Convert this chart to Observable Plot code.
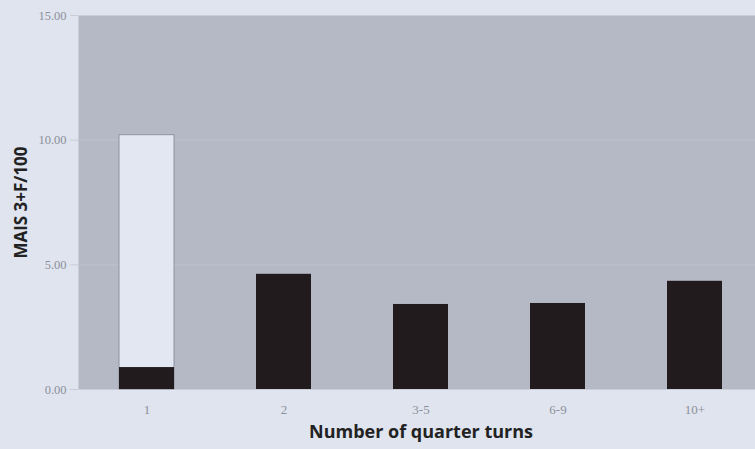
<!DOCTYPE html>
<html>
<head>
<meta charset="utf-8">
<script src="https://cdn.jsdelivr.net/npm/d3@7"></script>
<script src="https://cdn.jsdelivr.net/npm/@observablehq/plot@0.6"></script>
<style>
  html, body { margin: 0; padding: 0; background: #dfe4ee; }
  #chart { width: 755px; height: 449px; overflow: hidden; }
</style>
</head>
<body>
<div id="chart"></div>
<script>
const categories = ["1", "2", "3-5", "6-9", "10+"];
const darkValues = [0.88, 4.62, 3.41, 3.45, 4.34];
const lightValues = [10.2, null, null, null, null];
const yTicks = [0, 5, 10, 15];

const darkData = categories.map((c, i) => ({cat: c, v: darkValues[i]}));
const lightData = categories.map((c, i) => ({cat: c, v: lightValues[i]})).filter(d => d.v != null);

const chart = Plot.plot({
  width: 755,
  height: 449,
  marginLeft: 78,
  marginRight: -8,
  marginTop: 15,
  marginBottom: 60,
  style: {background: "#dfe4ee", overflow: "visible"},
  x: {domain: categories, paddingInner: 0.6, paddingOuter: 0.3, axis: null},
  y: {domain: [0, 15], axis: null},
  marks: [
    Plot.frame({fill: "#b5b8c5", stroke: null}),
    Plot.ruleY(yTicks.slice(1, 3), {stroke: "#bfc2cd", strokeWidth: 1}),
    Plot.barY(lightData, {x: "cat", y: "v", fill: "#e3e7f1", stroke: "#8e92a0", strokeWidth: 1}),
    Plot.barY(darkData, {x: "cat", y: "v", fill: "#221b1d"}),
    Plot.axisY({ticks: yTicks, tickFormat: d => d.toFixed(2), tickSize: 8, tickPadding: 4, stroke: "#c8ccd6", fill: "#8c909b", fontSize: 12.5, fontFamily: "Liberation Serif", label: null}),
    Plot.axisX({tickSize: 0, tickPadding: 15, fill: "#8c909b", fontSize: 13, fontFamily: "Liberation Serif", label: null}),
    Plot.text(["Number of quarter turns"], {frameAnchor: "bottom", dy: 48, fontSize: 18, fontWeight: "bold", fontFamily: "Open Sans", fill: "#222"}),
    Plot.text(["MAIS 3+F/100"], {frameAnchor: "left", textAnchor: "middle", rotate: -90, dx: -57, dy: 0, fontSize: 17, fontWeight: "bold", fontFamily: "Open Sans", fill: "#222"})
  ]
});
document.getElementById("chart").appendChild(chart);
</script>
</body>
</html>
